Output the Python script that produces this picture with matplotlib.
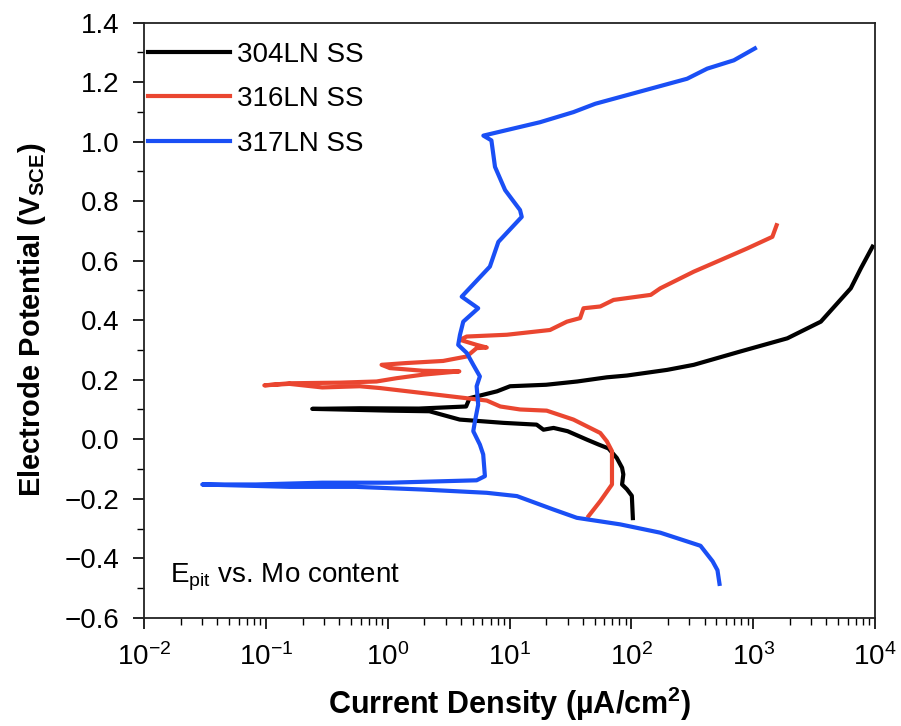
import matplotlib.pyplot as plt
from matplotlib.ticker import FixedLocator, LogLocator, MultipleLocator, NullFormatter

plt.rcParams['font.family'] = ['Liberation Sans', 'DejaVu Sans']
plt.rcParams['mathtext.fontset'] = 'custom'
plt.rcParams['mathtext.rm'] = 'Liberation Sans'
plt.rcParams['mathtext.it'] = 'Liberation Sans'
plt.rcParams['mathtext.bf'] = 'Liberation Sans:bold'

# 304LN SS: current density (uA/cm2) and potential (V_SCE)
i_304 = [103, 101, 92, 84, 86, 84, 76, 65, 54, 43, 30, 23, 19, 16.7, 8.9, 3.9,
         2.2, 1.04, 0.40, 0.24, 0.59, 1.8, 4.4, 4.7, 7.9, 10.1, 20, 36, 63, 92,
         197, 326, 789, 1910, 3600, 6340, 7670, 9570]
e_304 = [-0.265, -0.19, -0.168, -0.152, -0.118, -0.096, -0.063, -0.031, -0.018,
         -0.001, 0.027, 0.038, 0.032, 0.049, 0.055, 0.066, 0.094, 0.096, 0.10,
         0.102, 0.104, 0.103, 0.11, 0.138, 0.161, 0.178, 0.183, 0.194, 0.208,
         0.214, 0.233, 0.25, 0.295, 0.339, 0.395, 0.507, 0.574, 0.647]

# 316LN SS
i_316 = [44.6, 55.6, 69.4, 69.4, 63, 55.6, 33.5, 20.2, 12.2, 8.4, 6.5, 4.4, 1.95,
         0.86, 0.59, 0.29, 0.156, 0.097, 0.156, 0.40, 0.81, 1.18, 1.95, 3.87,
         1.95, 1.04, 0.89, 1.43, 2.85, 4.45, 5.37, 6.5, 5.37, 3.92, 4.45, 9.5,
         21.5, 29.6, 38, 40.5, 55.6, 71.5, 144.5, 173, 326, 541, 895, 1440, 1560]
e_316 = [-0.258, -0.208, -0.152, -0.04, -0.007, 0.021, 0.066, 0.096, 0.10, 0.11,
         0.13, 0.138, 0.155, 0.172, 0.178, 0.174, 0.186, 0.181, 0.188, 0.19,
         0.194, 0.205, 0.217, 0.228, 0.23, 0.239, 0.25, 0.256, 0.263, 0.278,
         0.306, 0.308, 0.317, 0.334, 0.345, 0.351, 0.367, 0.395, 0.407, 0.44,
         0.446, 0.468, 0.485, 0.507, 0.563, 0.602, 0.641, 0.68, 0.719]

# 317LN SS
i_317 = [530, 510, 465, 370, 173, 81, 35.7, 22.9, 11.5, 6.5, 1.95, 0.55, 0.156,
         0.030, 0.083, 0.29, 1.04, 5.37, 6.28, 6.08, 5.71, 5.04, 5.2, 5.53, 5.37,
         5.71, 5.04, 4.45, 3.79, 3.92, 4.17, 5.53, 4.05, 6.9, 8.1, 12.6, 12.2,
         9.2, 7.6, 7.1, 6.1, 17.8, 33.5, 50.6, 287, 420, 695, 1035]
e_317 = [-0.486, -0.44, -0.41, -0.358, -0.314, -0.286, -0.264, -0.236, -0.191,
         -0.18, -0.169, -0.16, -0.16, -0.152, -0.152, -0.146, -0.146, -0.138,
         -0.124, -0.051, -0.018, 0.027, 0.06, 0.116, 0.178, 0.211, 0.25, 0.29,
         0.317, 0.351, 0.395, 0.44, 0.479, 0.58, 0.663, 0.747, 0.77, 0.837,
         0.915, 1.004, 1.02, 1.065, 1.099, 1.127, 1.211, 1.245, 1.273, 1.313]

x_ticks = [1e-2, 1e-1, 1e0, 1e1, 1e2, 1e3, 1e4]

fig = plt.figure(figsize=(9.01, 7.26), dpi=100)
ax = fig.add_axes([0.160, 0.149, 0.811, 0.820])

ax.plot(i_304, e_304, color='black', linewidth=3, label='304LN SS')
ax.plot(i_316, e_316, color='#ea4630', linewidth=3, label='316LN SS')
ax.plot(i_317, e_317, color='#1a4ff5', linewidth=3, label='317LN SS')

ax.set_xscale('log')
ax.set_xlim(1e-2, 1e4)
ax.set_ylim(-0.6, 1.4)
ax.yaxis.set_major_locator(MultipleLocator(0.2))
ax.yaxis.set_minor_locator(MultipleLocator(0.1))
ax.yaxis.set_major_formatter(plt.FuncFormatter(lambda v, p: f'{v:.1f}'.replace('-', '\u2212')))
ax.xaxis.set_major_locator(FixedLocator(x_ticks))
ax.xaxis.set_minor_locator(LogLocator(base=10, subs=range(2, 10), numticks=100))
ax.xaxis.set_minor_formatter(NullFormatter())

ax.tick_params(axis='both', which='major', labelsize=20, length=8, width=1.2, direction='out')
ax.tick_params(axis='both', which='minor', length=5, width=1.0, direction='out')
ax.tick_params(axis='x', which='major', pad=10)
ax.tick_params(axis='y', which='major', pad=10)
for s in ax.spines.values():
    s.set_linewidth(1.3)
    s.set_color('#222222')

ax.set_xlabel('Current Density (\u00b5A/cm$^{\\mathbf{2}}$)', fontsize=22, fontweight='bold', labelpad=10)
ax.set_ylabel('Electrode Potential (V$_{\\mathbf{SCE}}$)', fontsize=21, fontweight='bold', labelpad=12)

ax.text(0.036, 0.06, 'E$_{\\mathrm{pit}}$ vs. Mo content', transform=ax.transAxes,
        fontsize=20, va='baseline')

ax.legend(loc='upper left', bbox_to_anchor=(0.005, 0.968), fontsize=20, frameon=False,
          handlelength=2.95, borderpad=0, borderaxespad=0, labelspacing=0.67,
          handletextpad=0.25)

fig.savefig('out.png', dpi=100)
